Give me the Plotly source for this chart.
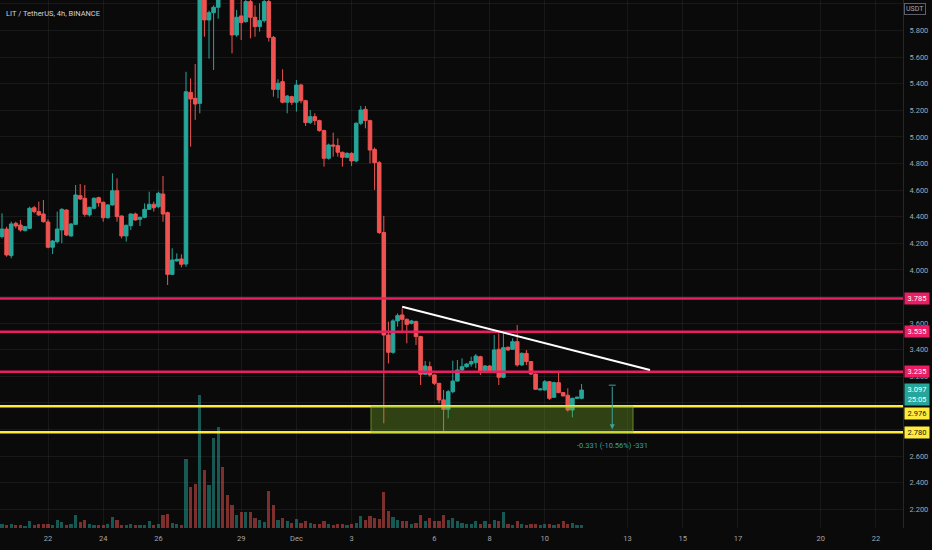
import pandas as pd
import plotly.graph_objects as go

# LIT / TetherUS 4h candles, first bar 2021-11-20 08:00
start = '2021-11-20 08:00'

opens = [4.251, 4.308, 4.108, 4.351, 4.338, 4.296, 4.313, 4.468, 4.439, 4.421,
         4.361, 4.171, 4.213, 4.301, 4.451, 4.256, 4.343, 4.559, 4.539, 4.414,
         4.464, 4.544, 4.509, 4.393, 4.489, 4.596, 4.406, 4.256, 4.333, 4.421,
         4.381, 4.396, 4.456, 4.494, 4.476, 4.571, 4.431, 3.967, 4.068, 4.083,
         4.045, 5.336, 5.291, 5.253, 6.20, 5.88, 5.935, 5.975, 6.35, 6.25,
         6.12, 5.767, 5.91, 5.867, 6.018, 5.90, 5.83, 5.875, 6.018, 5.749,
         5.358, 5.416, 5.261, 5.303, 5.261, 5.391, 5.273, 5.108, 5.153, 5.123,
         5.048, 4.840, 4.940, 4.935, 4.885, 4.847, 4.877, 4.820, 5.103, 5.208,
         5.123, 4.907, 4.807, 4.282, 3.511, 3.381, 3.617, 3.662, 3.629, 3.599,
         3.612, 3.499, 3.216, 3.273, 3.211, 3.148, 3.023, 2.952, 3.085, 3.165,
         3.248, 3.273, 3.293, 3.303, 3.348, 3.236, 3.278, 3.236, 3.404, 3.193,
         3.419, 3.404, 3.461, 3.286, 3.373, 3.311, 3.218, 3.098, 3.098, 3.160,
         3.043, 3.153, 3.078, 3.058, 2.947, 3.035, 3.035]

highs = [4.426, 4.326, 4.363, 4.363, 4.376, 4.331, 4.476, 4.481, 4.514, 4.526,
         4.381, 4.226, 4.439, 4.464, 4.456, 4.351, 4.639, 4.647, 4.639, 4.476,
         4.546, 4.551, 4.514, 4.496, 4.727, 4.689, 4.411, 4.341, 4.426, 4.431,
         4.401, 4.501, 4.589, 4.514, 4.589, 4.707, 4.439, 4.163, 4.125, 4.118,
         5.49, 5.441, 5.549, 6.30, 6.35, 5.95, 5.99, 6.40, 6.45, 6.32,
         6.20, 5.955, 6.05, 6.05, 6.06, 5.99, 6.005, 6.06, 6.06, 5.76,
         5.434, 5.509, 5.315, 5.31, 5.429, 5.40, 5.28, 5.203, 5.178, 5.13,
         5.055, 4.95, 5.033, 4.990, 4.89, 4.885, 4.885, 5.11, 5.233, 5.233,
         5.13, 4.92, 4.82, 4.407, 3.612, 3.63, 3.674, 3.712, 3.635, 3.625,
         3.62, 3.505, 3.316, 3.311, 3.215, 3.15, 3.098, 3.098, 3.318, 3.323,
         3.336, 3.30, 3.348, 3.368, 3.355, 3.285, 3.285, 3.511, 3.524, 3.524,
         3.425, 3.486, 3.586, 3.38, 3.399, 3.315, 3.222, 3.11, 3.173, 3.165,
         3.16, 3.228, 3.08, 3.110, 3.04, 3.048, 3.143]

lows = [4.238, 4.100, 4.088, 4.313, 4.288, 4.290, 4.308, 4.426, 4.406, 4.356,
        4.163, 4.120, 4.201, 4.201, 4.256, 4.251, 4.338, 4.526, 4.401, 4.401,
        4.456, 4.476, 4.363, 4.386, 4.484, 4.363, 4.238, 4.213, 4.301, 4.371,
        4.331, 4.389, 4.451, 4.439, 4.464, 4.363, 3.887, 3.962, 4.063, 4.020,
        4.025, 4.927, 5.128, 5.178, 5.754, 5.59, 5.504, 5.89, 6.20, 6.10,
        5.629, 5.754, 5.729, 5.86, 5.742, 5.754, 5.792, 5.86, 5.717, 5.303,
        5.291, 5.253, 5.178, 5.241, 5.191, 5.253, 5.083, 5.098, 5.090, 5.040,
        4.777, 4.83, 4.852, 4.852, 4.777, 4.84, 4.782, 4.81, 5.090, 5.065,
        4.802, 4.602, 4.27, 2.847, 3.298, 3.37, 3.574, 3.524, 3.449, 3.59,
        3.436, 3.135, 3.211, 3.198, 3.135, 2.998, 2.784, 2.885, 3.073, 3.160,
        3.236, 3.265, 3.273, 3.261, 3.211, 3.23, 3.228, 3.223, 3.135, 3.186,
        3.39, 3.399, 3.273, 3.28, 3.286, 3.21, 3.098, 3.095, 3.093, 3.023,
        3.04, 3.073, 3.05, 2.935, 2.892, 3.03, 3.028]

closes = [4.308, 4.113, 4.346, 4.331, 4.301, 4.326, 4.464, 4.439, 4.414, 4.363,
          4.171, 4.218, 4.308, 4.456, 4.263, 4.346, 4.564, 4.534, 4.419, 4.471,
          4.539, 4.506, 4.393, 4.489, 4.596, 4.401, 4.256, 4.336, 4.421, 4.376,
          4.396, 4.456, 4.494, 4.468, 4.577, 4.421, 3.967, 4.075, 4.080, 4.043,
          5.34, 5.286, 5.248, 6.20, 5.88, 5.935, 5.975, 6.35, 6.25, 6.12,
          5.767, 5.90, 5.86, 6.018, 5.90, 5.83, 5.875, 6.018, 5.749, 5.358,
          5.404, 5.261, 5.308, 5.261, 5.391, 5.273, 5.108, 5.153, 5.123, 5.048,
          4.840, 4.940, 4.932, 4.885, 4.847, 4.877, 4.820, 5.103, 5.203, 5.123,
          4.902, 4.807, 4.282, 3.511, 3.381, 3.617, 3.657, 3.629, 3.591, 3.617,
          3.499, 3.216, 3.278, 3.211, 3.148, 3.023, 2.952, 3.085, 3.165, 3.248,
          3.273, 3.293, 3.311, 3.353, 3.236, 3.278, 3.236, 3.399, 3.193, 3.416,
          3.399, 3.461, 3.286, 3.373, 3.311, 3.218, 3.103, 3.105, 3.160, 3.035,
          3.153, 3.078, 3.053, 2.947, 3.035, 3.043, 3.097]

# volume, arbitrary units (K LIT)
volumes = [4, 3, 4, 3, 3, 2, 6.7, 3, 4, 4,
           4, 3, 8.3, 6, 3, 4, 12.7, 6, 8, 4,
           3, 3, 3, 4, 10.7, 8, 3, 3, 4, 3,
           3, 3, 6.7, 3, 4, 13.3, 14, 5, 4, 3,
           69, 41, 44, 133, 58, 43, 90, 100.7, 61, 33,
           23, 13, 16, 16, 16, 10, 8, 6, 37, 23,
           8, 10, 7, 5, 9, 5, 7.3, 5, 4, 4,
           6.7, 4, 3, 4, 4, 3, 4, 5, 11.7, 8.3,
           12.3, 10, 9, 36, 17.3, 10.7, 8.3, 7.3, 7.3, 4,
           5, 13.3, 6.7, 10, 6.7, 6.7, 13.3, 8.3, 10, 6.7,
           5, 4, 4, 7.3, 4, 6.7, 4, 8.3, 6.7, 16,
           4, 3, 6.7, 4, 3, 4, 4, 3, 4, 4,
           3, 4, 6.7, 4, 5, 3, 3]

resistance_levels = [3.785, 3.535, 3.235]
support_levels = [2.976, 2.780]
last_price = 3.097
countdown = '25:05'

trend_start = ('2021-12-04 20:00', 3.724)
trend_end = ('2021-12-13 19:30', 3.248)
zone_start = '2021-12-03 16:50'
zone_end = '2021-12-13 04:45'
measure_time = '2021-12-12 10:40'
measure_from = 3.134
measure_to = 2.803
measure_text = '-0.331 (-10.56%) -331'

tick_dates = ['2021-11-22', '2021-11-24', '2021-11-26', '2021-11-29', '2021-12-01',
              '2021-12-03', '2021-12-06', '2021-12-08', '2021-12-10', '2021-12-13',
              '2021-12-15', '2021-12-17', '2021-12-20', '2021-12-22']
tick_labels = ['22', '24', '26', '29', 'Dec', '3', '6', '8', '10', '13', '15', '17', '20', '22']
price_ticks = [2.2, 2.4, 2.6, 2.8, 3.0, 3.2, 3.4, 3.6, 3.8, 4.0, 4.2, 4.4, 4.6, 4.8,
               5.0, 5.2, 5.4, 5.6, 5.8, 6.0]
# tick labels hidden behind the price-line labels on the axis
hidden_ticks = [2.8, 3.0, 3.8]

UP = '#26a69a'
DOWN = '#ef5350'
PINK = '#e91e63'
YELLOW = '#ffeb3b'
BG = '#0a0a0a'
GRID = 'rgba(255,255,255,0.06)'
TXT = '#a3a6af'
FONT = 'Roboto'
FS = 7.5

times = pd.date_range(start, periods=len(opens), freq='4h')
vol_colors = ['rgba(38,166,154,0.5)' if c >= o else 'rgba(239,83,80,0.5)'
              for o, c in zip(opens, closes)]
price_text = ['' if p in hidden_ticks else f'{p:.3f}' for p in price_ticks]

fig = go.Figure()
fig.add_trace(go.Bar(
    x=times, y=volumes, yaxis='y2',
    marker=dict(color=vol_colors, line=dict(width=0)),
    width=4 * 3600 * 1000 * 0.7,
    hoverinfo='skip'
))
fig.add_trace(go.Candlestick(
    x=times, open=opens, high=highs, low=lows, close=closes,
    increasing=dict(line=dict(color=UP, width=1), fillcolor=UP),
    decreasing=dict(line=dict(color=DOWN, width=1), fillcolor=DOWN),
    whiskerwidth=0
))

shapes = []
for lvl in resistance_levels:
    shapes.append(dict(type='line', xref='paper', x0=0, x1=1, yref='y', y0=lvl, y1=lvl,
                       line=dict(color=PINK, width=2.5)))
for lvl in support_levels:
    shapes.append(dict(type='line', xref='paper', x0=0, x1=1, yref='y', y0=lvl, y1=lvl,
                       line=dict(color=YELLOW, width=2.5)))
shapes.append(dict(type='rect', xref='x', yref='y',
                   x0=zone_start, x1=zone_end, y0=support_levels[1], y1=support_levels[0],
                   fillcolor='rgba(120,170,40,0.35)', line=dict(color='rgba(150,200,60,0.6)', width=1)))
shapes.append(dict(type='line', xref='x', yref='y',
                   x0=trend_start[0], y0=trend_start[1], x1=trend_end[0], y1=trend_end[1],
                   line=dict(color='white', width=2)))
mt = pd.Timestamp(measure_time)
tick = pd.Timedelta(hours=3)
shapes.append(dict(type='line', xref='x', yref='y',
                   x0=mt - tick, x1=mt + tick, y0=measure_from, y1=measure_from,
                   line=dict(color='#3aa39b', width=1)))

annotations = [
    dict(text='LIT / TetherUS, 4h, BINANCE', xref='paper', yref='paper', x=0, y=1,
         xanchor='left', yanchor='top', xshift=4, yshift=-7, showarrow=False,
         font=dict(color='#d1d4dc', size=7.5, family=FONT)),
    dict(text='USDT', xref='paper', yref='paper', x=1, y=1, xanchor='left', yanchor='top',
         xshift=1, yshift=-3, showarrow=False, bgcolor=BG, bordercolor='#5d606b',
         borderwidth=1, borderpad=1, font=dict(color=TXT, size=7, family=FONT)),
    dict(x=measure_time, y=measure_to, ax=measure_time, ay=measure_from,
         xref='x', yref='y', axref='x', ayref='y', showarrow=True, arrowhead=2,
         arrowsize=1, arrowwidth=1, arrowcolor='#3aa39b', text=''),
    dict(text=measure_text, x=measure_time, y=measure_to, xref='x', yref='y',
         yshift=-16, showarrow=False, font=dict(color='#3aa39b', size=FS, family=FONT)),
]
for lvl in resistance_levels:
    annotations.append(dict(text=f'{lvl:.3f}', xref='paper', yref='y', x=1, y=lvl,
                            xanchor='left', xshift=1, showarrow=False, bgcolor=PINK,
                            borderpad=1, width=22,
                            font=dict(color='white', size=FS, family=FONT)))
label_shift = [-7, 0]
for lvl, ys in zip(support_levels, label_shift):
    annotations.append(dict(text=f'{lvl:.3f}', xref='paper', yref='y', x=1, y=lvl,
                            xanchor='left', xshift=1, yshift=ys, showarrow=False,
                            bgcolor=YELLOW, borderpad=1, width=22,
                            font=dict(color='#131722', size=FS, family=FONT)))
annotations.append(dict(text=f'{last_price:.3f}<br>{countdown}', xref='paper', yref='y',
                        x=1, y=last_price, xanchor='left', yanchor='top', xshift=1, yshift=7,
                        showarrow=False, bgcolor=UP, borderpad=1, width=22,
                        font=dict(color='white', size=FS, family=FONT)))

fig.update_layout(
    width=932, height=550,
    margin=dict(l=0, r=29, t=0, b=22),
    paper_bgcolor=BG, plot_bgcolor=BG,
    showlegend=False,
    bargap=0, boxgap=0.22, boxgroupgap=0,
    xaxis=dict(type='date', range=['2021-11-20 06:15', '2021-12-22 23:30'],
               tickvals=tick_dates, ticktext=tick_labels, automargin=False,
               showgrid=True, gridcolor=GRID, zeroline=False, showline=False,
               ticklabelstandoff=4,
               tickfont=dict(color=TXT, size=FS, family=FONT),
               rangeslider=dict(visible=False), fixedrange=True),
    yaxis=dict(side='right', range=[2.06, 6.03], tickvals=price_ticks, ticktext=price_text,
               showgrid=True, gridcolor=GRID, zeroline=False, automargin=False,
               showline=True, linecolor='rgba(255,255,255,0.12)',
               ticklabelstandoff=4,
               tickfont=dict(color=TXT, size=FS, family=FONT)),
    yaxis2=dict(overlaying='y', range=[0, 528], visible=False),
    shapes=shapes,
    annotations=annotations,
)

# the page body keeps its default 8px margin otherwise
fig.write_html('out.html', config={'displayModeBar': False},
               post_script="document.body.style.margin='0';")
